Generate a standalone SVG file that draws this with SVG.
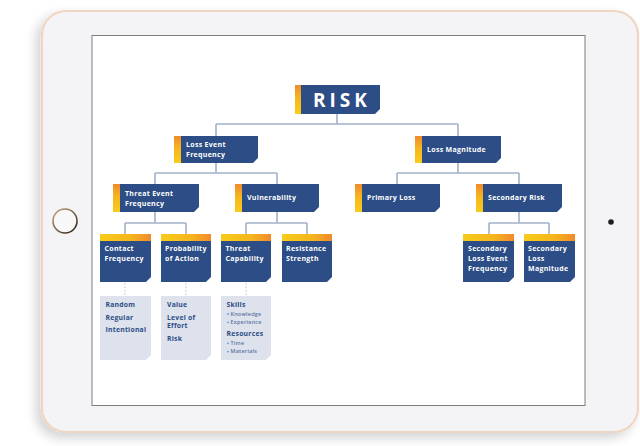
<svg xmlns="http://www.w3.org/2000/svg" width="640" height="446" viewBox="0 0 640 446">
  <defs>
    <linearGradient id="strip" x1="0" y1="0" x2="0" y2="1">
      <stop offset="0" stop-color="#f08a2c"/>
      <stop offset="0.45" stop-color="#f6b51e"/>
      <stop offset="1" stop-color="#f8cc1a"/>
    </linearGradient>
    <linearGradient id="bar" x1="0" y1="0" x2="1" y2="0">
      <stop offset="0" stop-color="#f8cc1a"/>
      <stop offset="0.6" stop-color="#f6b51e"/>
      <stop offset="1" stop-color="#f08a2c"/>
    </linearGradient>
    <linearGradient id="ring" x1="0" y1="0" x2="1" y2="1">
      <stop offset="0" stop-color="#c9a77f"/>
      <stop offset="1" stop-color="#2a1e14"/>
    </linearGradient>
    <filter id="shadow" x="-10%" y="-10%" width="120%" height="125%">
      <feGaussianBlur in="SourceAlpha" stdDeviation="6"/>
      <feOffset dx="-5" dy="5" result="b"/>
      <feComponentTransfer><feFuncA type="linear" slope="0.18"/></feComponentTransfer>
      <feMerge><feMergeNode/><feMergeNode in="SourceGraphic"/></feMerge>
    </filter>
    <style>
      .node { fill: #2c4d85; }
      .note { fill: #dde2ec; }
      .lbl { font-family: "Open Sans", "Liberation Sans", sans-serif; font-weight: 700; font-size: 7px; letter-spacing: 0.3px; fill: #ffffff; }
      .risk { font-family: "Open Sans", "Liberation Sans", sans-serif; font-weight: 700; font-size: 19px; fill: #ffffff; letter-spacing: 4px; }
      .ntxt { font-family: "Open Sans", "Liberation Sans", sans-serif; font-weight: 700; font-size: 6.8px; letter-spacing: 0.25px; fill: #2c4d85; }
      .sub { font-family: "Open Sans", "Liberation Sans", sans-serif; font-weight: 600; font-size: 5.4px; letter-spacing: 0.25px; fill: #5b74a0; }
      .dot { fill: #4aa3df; }
      .wire { fill: none; stroke: #a3b1c9; stroke-width: 1.6; }
      .dash { fill: none; stroke: #b8c3d6; stroke-width: 1; stroke-dasharray: 1.5 2; }
    </style>
  </defs>

  <!-- tablet body -->
  <rect x="42" y="11" width="596" height="421" rx="24" fill="#f4f4f6" stroke="#efd6c2" stroke-width="2.2" filter="url(#shadow)"/>
  <circle cx="65" cy="221" r="12" fill="#f8f8f8" stroke="url(#ring)" stroke-width="1.6"/>
  <circle cx="611" cy="222" r="2.8" fill="#1d1d1d"/>

  <!-- screen -->
  <rect x="92" y="35.5" width="493" height="370" fill="#ffffff" stroke="#7d7d7d" stroke-width="1"/>

  <!-- connectors -->
  <g id="connectors">
    <path class="wire" d="M337 114 V124 M216 124 H458 M216 124 V136 M458 124 V136"/>
    <path class="wire" d="M216 163 V173 M155 173 H277 M155 173 V184 M277 173 V184"/>
    <path class="wire" d="M458 163 V173 M397 173 H519 M397 173 V184 M519 173 V184"/>
    <path class="wire" d="M155 212 V223 M125 223 H186 M125 223 V234 M186 223 V234"/>
    <path class="wire" d="M277 212 V223 M246 223 H307 M246 223 V234 M307 223 V234"/>
    <path class="wire" d="M519 212 V223 M489 223 H549 M489 223 V234 M549 223 V234"/>
    <path class="dash" d="M125 283 V296 M186 283 V296 M246 283 V296"/>
  </g>

  <!-- top node -->
  <g id="risk">
    <path class="node" d="M295 85 H380 V109 L375 114 H295 Z"/>
    <rect x="295" y="85" width="6" height="29" fill="url(#strip)"/>
    <text class="risk" x="342" y="107" text-anchor="middle">RISK</text>
  </g>

  <!-- second level -->
  <g id="loss-event-frequency">
    <path class="node" d="M174 136 H258 V158 L253 163 H174 Z"/>
    <rect x="174" y="136" width="7" height="27" fill="url(#strip)"/>
    <text class="lbl" x="186" y="147">Loss Event</text>
    <text class="lbl" x="186" y="157">Frequency</text>
  </g>
  <g id="loss-magnitude">
    <path class="node" d="M415 136 H501 V158 L496 163 H415 Z"/>
    <rect x="415" y="136" width="7" height="27" fill="url(#strip)"/>
    <text class="lbl" x="427" y="152">Loss Magnitude</text>
  </g>

  <!-- third level -->
  <g id="threat-event-frequency">
    <path class="node" d="M113 184 H199 V207 L194 212 H113 Z"/>
    <rect x="113" y="184" width="7" height="28" fill="url(#strip)"/>
    <text class="lbl" x="125" y="196">Threat Event</text>
    <text class="lbl" x="125" y="206">Frequency</text>
  </g>
  <g id="vulnerability">
    <path class="node" d="M235 184 H319 V207 L314 212 H235 Z"/>
    <rect x="235" y="184" width="7" height="28" fill="url(#strip)"/>
    <text class="lbl" x="247" y="200">Vulnerability</text>
  </g>
  <g id="primary-loss">
    <path class="node" d="M355 184 H440 V207 L435 212 H355 Z"/>
    <rect x="355" y="184" width="7" height="28" fill="url(#strip)"/>
    <text class="lbl" x="367" y="200">Primary Loss</text>
  </g>
  <g id="secondary-risk">
    <path class="node" d="M476 184 H562 V207 L557 212 H476 Z"/>
    <rect x="476" y="184" width="7" height="28" fill="url(#strip)"/>
    <text class="lbl" x="488" y="200">Secondary Risk</text>
  </g>

  <!-- fourth level -->
  <g id="contact-frequency">
    <path class="node" d="M100 234 H151 V277 L146 282 H100 Z"/>
    <rect x="100" y="234" width="51" height="7" fill="url(#bar)"/>
    <text class="lbl" x="104.5" y="251">Contact</text>
    <text class="lbl" x="104.5" y="261">Frequency</text>
  </g>
  <g id="probability-of-action">
    <path class="node" d="M161 234 H211 V277 L206 282 H161 Z"/>
    <rect x="161" y="234" width="50" height="7" fill="url(#bar)"/>
    <text class="lbl" x="165" y="251">Probability</text>
    <text class="lbl" x="165" y="261">of Action</text>
  </g>
  <g id="threat-capability">
    <path class="node" d="M221 234 H271 V277 L266 282 H221 Z"/>
    <rect x="221" y="234" width="50" height="7" fill="url(#bar)"/>
    <text class="lbl" x="225.5" y="251">Threat</text>
    <text class="lbl" x="225.5" y="261">Capability</text>
  </g>
  <g id="resistance-strength">
    <path class="node" d="M282 234 H332 V277 L327 282 H282 Z"/>
    <rect x="282" y="234" width="50" height="7" fill="url(#bar)"/>
    <text class="lbl" x="286" y="251">Resistance</text>
    <text class="lbl" x="286" y="261">Strength</text>
  </g>
  <g id="secondary-loss-event-frequency">
    <path class="node" d="M463 234 H514 V277 L509 282 H463 Z"/>
    <rect x="463" y="234" width="51" height="7" fill="url(#bar)"/>
    <text class="lbl" x="468" y="251">Secondary</text>
    <text class="lbl" x="468" y="261">Loss Event</text>
    <text class="lbl" x="468" y="271">Frequency</text>
  </g>
  <g id="secondary-loss-magnitude">
    <path class="node" d="M524 234 H575 V277 L570 282 H524 Z"/>
    <rect x="524" y="234" width="51" height="7" fill="url(#bar)"/>
    <text class="lbl" x="528" y="251">Secondary</text>
    <text class="lbl" x="528" y="261">Loss</text>
    <text class="lbl" x="528" y="271">Magnitude</text>
  </g>

  <!-- detail notes -->
  <g id="contact-frequency-notes">
    <path class="note" d="M100 296 H151 V355 L146 360 H100 Z"/>
    <text class="ntxt" x="105.5" y="307">Random</text>
    <text class="ntxt" x="105.5" y="320">Regular</text>
    <text class="ntxt" x="105.5" y="332">Intentional</text>
  </g>
  <g id="probability-of-action-notes">
    <path class="note" d="M161 296 H211 V355 L206 360 H161 Z"/>
    <text class="ntxt" x="167" y="307">Value</text>
    <text class="ntxt" x="167" y="320">Level of</text>
    <text class="ntxt" x="167" y="328">Effort</text>
    <text class="ntxt" x="167" y="341">Risk</text>
  </g>
  <g id="threat-capability-notes">
    <path class="note" d="M221 296 H271 V355 L266 360 H221 Z"/>
    <text class="ntxt" x="226.5" y="307">Skills</text>
    <circle class="dot" cx="228" cy="314" r="0.9"/>
    <text class="sub" x="230.5" y="315.8">Knowledge</text>
    <circle class="dot" cx="228" cy="322.3" r="0.9"/>
    <text class="sub" x="230.5" y="324.1">Experience</text>
    <text class="ntxt" x="226.5" y="336">Resources</text>
    <circle class="dot" cx="228" cy="343.3" r="0.9"/>
    <text class="sub" x="230.5" y="345.1">Time</text>
    <circle class="dot" cx="228" cy="351.6" r="0.9"/>
    <text class="sub" x="230.5" y="353.4">Materials</text>
  </g>
</svg>
